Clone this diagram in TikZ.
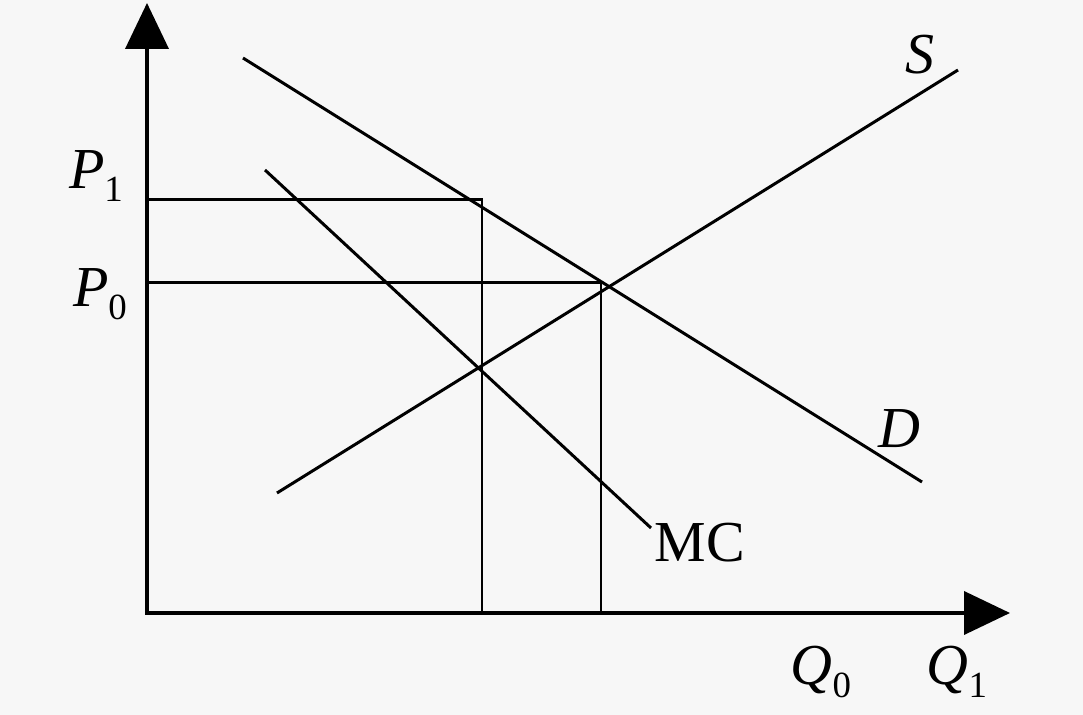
\documentclass[tikz,border=0pt]{standalone}
\usepackage{fontspec}
\setmainfont{Liberation Serif}
\usetikzlibrary{arrows.meta}

\newcommand{\lab}[2]{\textit{#1}\raisebox{-0.5ex}{\fontsize{21}{24}\selectfont #2}}

\tikzset{
	axis/.style = {line width = 2.2pt, -{Triangle[length=0.92cm, width=0.86cm]}},
	curve/.style = {line width = 1.7pt},
	guide/.style = {line width = 1.7pt},
	lbl/.style = {font = \fontsize{33}{38}\selectfont, inner sep = 0pt}
}

\begin{document}
\begin{tikzpicture}[x=0.02cm, y=-0.02cm]
			\fill[black!3] (0,0) rectangle (1083,715);
			\useasboundingbox (0,0) rectangle (1083,715);
			
			% axes
			\coordinate (O) at (147,613);
			\draw[axis] (O) -- (147,3);
			\draw[axis] (145,613) -- (1010,613);
			
			% curves
			\coordinate (D1) at (243,58);
			\coordinate (D2) at (922,482);
			\coordinate (S1) at (277,493);
			\coordinate (S2) at (958,70);
			\coordinate (M1) at (265,170);
			\coordinate (M2) at (651,528);
			\draw[curve] (D1) -- (D2);
			\draw[curve] (S1) -- (S2);
			\draw[curve] (M1) -- (M2);
			
			% price and quantity lines
			\coordinate (A) at (482,200);
			\coordinate (E) at (601,283);
			\draw[guide] (147,200) -- (A) -- (482,613);
			\draw[guide] (147,283) -- (E) -- (601,613);
			
			% labels
			\node[lbl] (S) at (920,55) {\textit{S}};
			\node[lbl] (D) at (899,429) {\textit{D}};
			\node[lbl] (MC) at (700,543) {MC};
			\node[lbl] (P1) at (96,176) {\lab{P}{1}};
			\node[lbl] (P0) at (100,294) {\lab{P}{0}};
			\node[lbl] (Q0) at (821,672) {\lab{Q}{0}};
			\node[lbl] (Q1) at (957,672) {\lab{Q}{1}};
		\end{tikzpicture}
\end{document}
